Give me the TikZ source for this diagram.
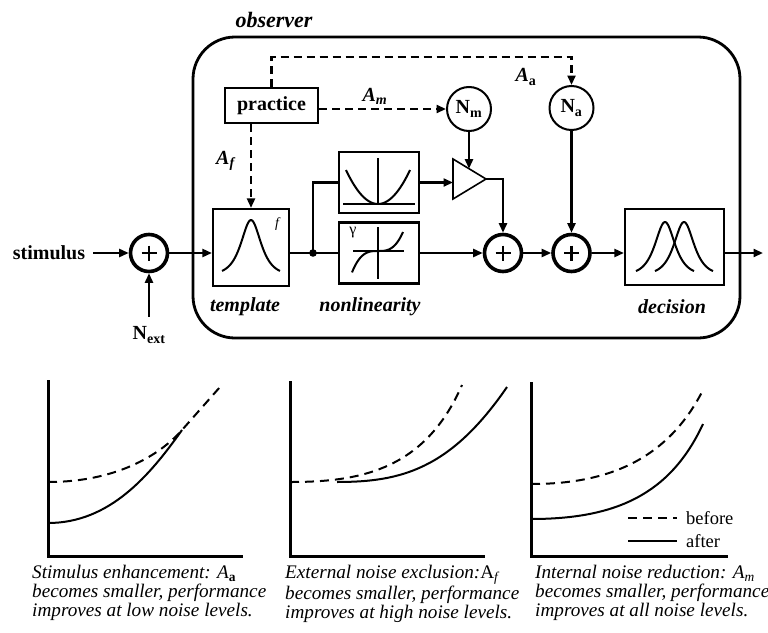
\documentclass[tikz,border=0pt]{standalone}
\usepackage{fontspec}
\setmainfont{Liberation Serif}
\usetikzlibrary{arrows.meta}
\begin{document}
\begin{tikzpicture}[x=1pt,y=-1pt,
  every node/.style={inner sep=0pt},
  ln/.style={line width=2.2pt},
  tip/.style={-{Triangle[length=9.5pt,width=8pt]}},
  dsh/.style={line width=2.2pt,dash pattern=on 8pt off 5pt},
  boxs/.style={draw,line width=2.2pt},
  sumc/.style={draw,circle,line width=3.6pt,minimum size=37pt},
  noisec/.style={draw,circle,line width=2pt,minimum size=44pt,font=\bfseries\fontsize{20}{22}\selectfont},
  bl/.style={font=\bfseries\fontsize{20}{22}\selectfont},
  bil/.style={font=\bfseries\itshape\fontsize{20}{22}\selectfont},
  icon/.style={line width=2pt},
  captxt/.style={font=\itshape\fontsize{19.2}{19}\selectfont,align=left,anchor=north west},
  axisl/.style={line width=3pt},
  crv/.style={line width=2pt},
  dcrv/.style={line width=2pt,dash pattern=on 9pt off 6pt},
  leg/.style={font=\fontsize{18.5}{18.5}\selectfont,anchor=west},
]
\useasboundingbox (0,0) rectangle (768,632);

% observer frame
\node[font=\bfseries\itshape\fontsize{22}{24}\selectfont] (obs) at (274,20) {observer};
\draw[line width=2.8pt,rounded corners=42pt] (193,37) rectangle (740,338);

% nodes
\node[bl] (stim) at (49,253) {stimulus};
\node[sumc] (p1) at (149,253) {};
\node[bl] (next) at (149,335) {N\textsubscript{ext}};
\node[boxs,minimum width=76pt,minimum height=77pt] (tmpl) at (251,247.5) {};
\node[boxs,bl,minimum width=93pt,minimum height=35pt] (prac) at (271.5,105.5) {practice};
\node[boxs,minimum width=80pt,minimum height=61pt] (nlu) at (379,182.5) {};
\node[boxs,minimum width=80pt,minimum height=61pt] (nll) at (379,253) {};
\node[noisec] (nm) at (469,109) {N\textsubscript{m}};
\node[noisec] (na) at (571.5,108) {N\textsubscript{a}};
\node[sumc] (p2) at (503,253) {};
\node[sumc] (p3) at (571.5,253) {};
\node[boxs,minimum width=99pt,minimum height=76pt] (dec) at (674.5,247) {};
\coordinate (out) at (763,253);
\coordinate (J) at (313,253);
\coordinate (topc) at (571.5,57);
\coordinate (triR) at (486,179);
\coordinate (triT) at (469,168.7);
\coordinate (triL) at (453,179);

% amplifier triangle
\draw[line width=1.6pt] (453,159) -- (triR) -- (453,199) -- cycle;

% plus signs
\foreach \p in {p1,p2,p3} {
  \draw[line width=2.2pt] (\p.center) ++(-7.5,0) -- ++(15,0);
  \draw[line width=2.2pt] (\p.center) ++(0,-7.5) -- ++(0,15);
}

% connectors
\draw[ln,tip,shorten <=8pt] (stim) -- (p1);
\draw[ln,tip,shorten <=10pt] (next) -- (p1);
\draw[ln,tip] (p1) -- (tmpl.west |- p1);
\draw[ln] (tmpl.east |- J) -- (J) -- (nll);
\draw[ln] (J) |- (nlu.west);
\fill (J) circle (3.8pt);
\draw[ln,tip] (nlu.east) -- (nlu.east -| triL);
\draw[ln,tip] (nm) -- (triT);
\draw[ln,tip] (triR) -| (p2.north);
\draw[ln,tip] (nll) -- (p2);
\draw[ln,tip] (p2) -- (p3);
\draw[ln,tip] (na) -- (p3);
\draw[ln,tip] (p3) -- (dec.west |- p3);
\draw[ln,tip] (dec.east |- p3) -- (out);
\draw[dsh,tip] (prac.north) |- (topc) -- (na.north);
\draw[dsh,tip] (prac.east |- nm.west) -- (nm.west);
\draw[dsh,tip] (prac.south -| tmpl.north) -- (tmpl.north);

% labels
\node[bil] (lt) at (245,307) {template};
\node[bil] (lnl) at (370,307) {nonlinearity};
\node[bil] (ld) at (672,307) {decision};
\node[bl] (laf) at (226,161) {\textit{A}\textsubscript{\textit{f}}};
\node[bl] (lam) at (375,96) {\textit{A}\textsubscript{\textit{m}}};
\node[bl] (laa) at (526,77) {\textit{A}\textsubscript{a}};

% template icon
\draw[icon] plot[domain=-29:29,samples=70] ({251+\x},{275-55/cosh(\x/8.8)});
\node[font=\itshape\fontsize{14}{14}\selectfont] (ff) at (277,224) {f};

% decision icon
\foreach \c in {665,684}
  \draw[icon] plot[domain=-29:29,samples=70] ({\c+\x},{275-53/cosh(\x/8.8)});

% nonlinearity icons
\draw[icon] (343,204) -- (415,204);
\draw[icon] (378,158) -- (378,204);
\draw[icon] plot[domain=-32:32,samples=40] ({378+\x},{204-34*(\x/32)*(\x/32)});
\node[font=\fontsize{16}{16}\selectfont] (gam) at (353,233) {γ};
\draw[icon] (378,227) -- (378,279);
\draw[icon] (353,251) -- (404,251);
\draw[icon] plot[domain=-26:25,samples=40] ({378+\x},{251-19*(\x/25)*(\x/25)*(\x/25)});

% plot 1
\draw[axisl] (48,380) -- (48,556) -- (243,556);
\draw[dcrv] (48,482) .. controls (115,482) and (159,456) .. (182,430) -- (220,387);
\draw[crv] (48,523) .. controls (110,523) and (150,475) .. (182,430);

% plot 2
\draw[axisl] (290,381) -- (290,556) -- (485,556);
\draw[dcrv] (290,482) .. controls (360,482) and (425,470) .. (462,385);
\draw[crv] (337,482) .. controls (400,482) and (450,470) .. (507,387);

% plot 3
\draw[axisl] (531,382) -- (531,556) -- (728,556);
\draw[dcrv] (531,484) .. controls (600,484) and (665,465) .. (703,390);
\draw[crv] (531,519) .. controls (615,519) and (670,495) .. (703,424);
\draw[dcrv] (628,518) -- (677,518);
\node[leg] (lb) at (686,518) {before};
\draw[crv] (628,541) -- (677,541);
\node[leg] (la) at (686,541) {after};

% captions
\node[captxt] (c1) at (32,565) {Stimulus enhancement: A\textsubscript{\bfseries\upshape a}\\becomes smaller, performance\\improves at low noise levels.};
\node[captxt] (c2) at (285,565) {External noise exclusion:{\upshape A}\textsubscript{f}\\becomes smaller, performance\\improves at high noise levels.};
\node[captxt] (c3) at (535,565) {Internal noise reduction: A\textsubscript{m}\\becomes smaller, performance\\improves at all noise levels.};
\end{tikzpicture}
\end{document}
